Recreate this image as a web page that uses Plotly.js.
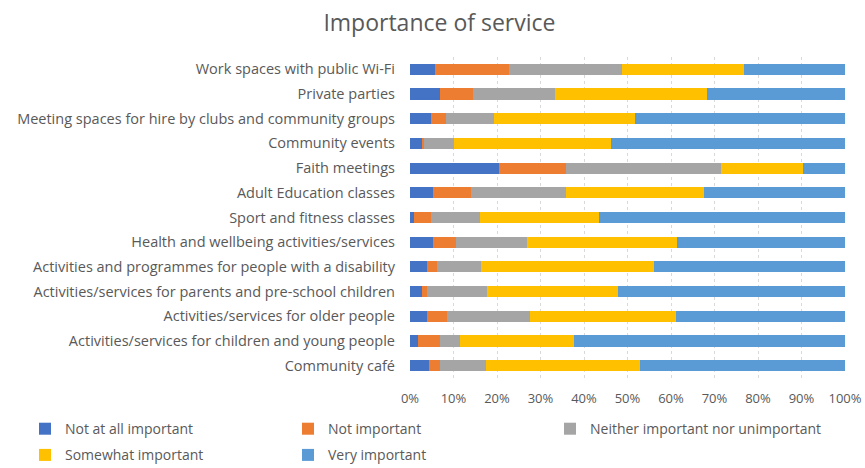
<!DOCTYPE html>
<html>
<head>
<meta charset="utf-8">
<script src="https://cdn.plot.ly/plotly-3.0.1.min.js"></script>
<style>html,body{margin:0;padding:0;background:#fff;}#chart{width:865px;height:468px;}</style>
</head>
<body>
<div id="chart"></div>
<script>
const categories = [
  "Work spaces with public Wi-Fi",
  "Private parties",
  "Meeting spaces for hire by clubs and community groups",
  "Community events",
  "Faith meetings",
  "Adult Education classes",
  "Sport and fitness classes",
  "Health and wellbeing activities/services",
  "Activities and programmes for people with a disability",
  "Activities/services for parents and pre-school children",
  "Activities/services for older people",
  "Activities/services for children and young people",
  "Community café"
];
const notAtAll   = [5.8, 6.8, 4.8, 2.8, 20.4, 5.2, 1.0, 5.2, 3.8, 2.8, 3.8, 1.9, 4.3];
const notImp     = [16.9, 7.6, 3.4, 0.5, 15.4, 8.9, 3.8, 5.4, 2.5, 1.0, 4.8, 4.9, 2.5];
const neither    = [26.1, 18.9, 11.2, 6.7, 35.7, 21.7, 11.2, 16.3, 10.0, 13.9, 18.9, 4.6, 10.6];
const somewhat   = [28.0, 34.9, 32.4, 36.3, 18.9, 31.9, 27.5, 34.5, 39.8, 30.1, 33.6, 26.3, 35.4];
const veryImp    = [23.2, 31.8, 48.2, 53.7, 9.6, 32.3, 56.5, 38.6, 43.9, 52.2, 38.9, 62.3, 47.2];
const seriesNames = ["Not at all important", "Not important", "Neither important nor unimportant", "Somewhat important", "Very important"];
const seriesColors = ["#4472C4", "#ED7D31", "#A5A5A5", "#FFC000", "#5B9BD5"];
const seriesValues = [notAtAll, notImp, neither, somewhat, veryImp];
// legend column for each series (reference lays them out in 3 columns, 2 rows)
const legendIds = ["legend", "legend2", "legend3", "legend", "legend2"];

const traces = seriesValues.map((vals, i) => ({
  type: 'bar',
  orientation: 'h',
  name: seriesNames[i],
  y: categories,
  x: vals,
  legend: legendIds[i],
  legendgroup: 'g' + i,
  marker: {color: seriesColors[i], line: {width: 0}},
  hoverinfo: 'none'
}));

const font = "Open Sans, Liberation Sans, sans-serif";
const legFont = {family: font, size: 14, color: '#595959'};
const legBase = {
  orientation: 'v', xanchor: 'left', yanchor: 'top',
  traceorder: 'grouped', tracegroupgap: 5,
  itemwidth: 30, font: legFont, bgcolor: 'rgba(0,0,0,0)'
};
const xpx = px => (px - 410) / 435;
const ypx = py => (378 - py) / 320;
const layout = {
  width: 865, height: 468,
  barmode: 'stack',
  bargap: 0.55,
  paper_bgcolor: '#fff', plot_bgcolor: '#fff',
  margin: {l: 410, r: 20, t: 57, b: 90, autoexpand: false},
  title: {text: 'Importance of service', x: 0.508, xanchor: 'center', y: 0.95, yanchor: 'middle',
          font: {family: font, size: 23, color: '#595959'}},
  xaxis: {
    range: [0, 100], dtick: 10, ticksuffix: '%',
    showgrid: true, gridcolor: '#d9d9d9', griddash: 'dot', gridwidth: 1,
    zeroline: false, showline: false, ticks: '',
    ticklabelstandoff: 11,
    tickfont: {family: font, size: 13, color: '#595959'},
    fixedrange: true
  },
  yaxis: {
    autorange: 'reversed', type: 'category',
    showgrid: false, zeroline: false, showline: false, ticks: '',
    ticklabelstandoff: 14,
    tickfont: {family: font, size: 14.5, color: '#595959'},
    fixedrange: true
  },
  showlegend: true,
  legend:  Object.assign({}, legBase, {x: xpx(25), y: ypx(413)}),
  legend2: Object.assign({}, legBase, {x: xpx(288), y: ypx(413)}),
  legend3: Object.assign({}, legBase, {x: xpx(550), y: ypx(413)})
};
Plotly.newPlot('chart', traces, layout, {displayModeBar: false, staticPlot: true});
</script>
</body>
</html>
